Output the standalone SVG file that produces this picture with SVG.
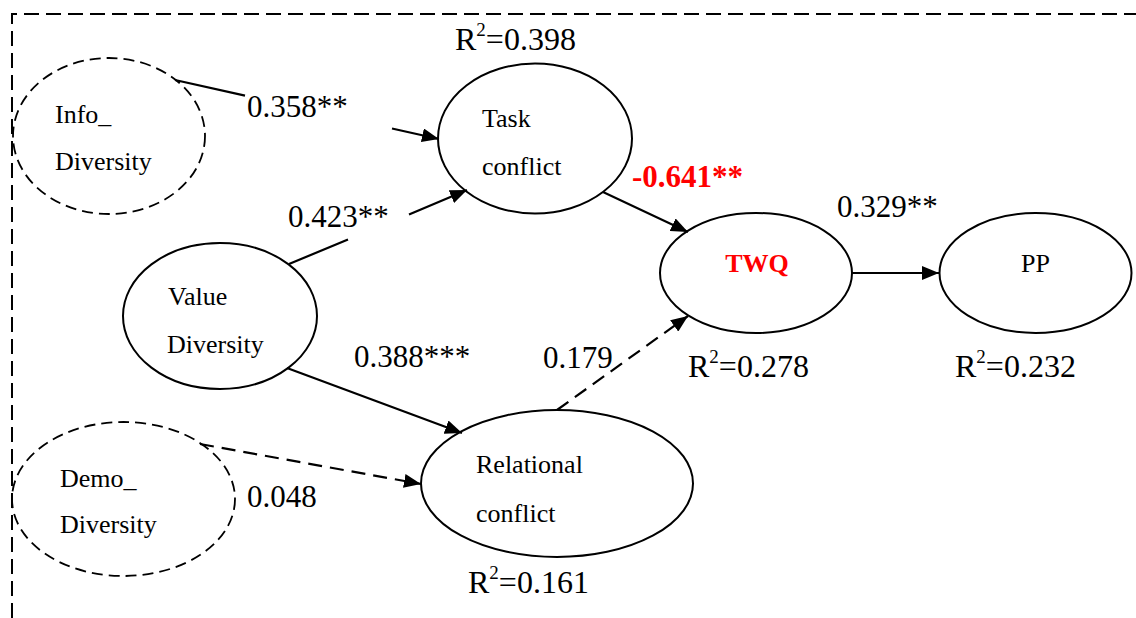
<svg xmlns="http://www.w3.org/2000/svg" width="1136" height="618" viewBox="0 0 1136 618">
<style>
  .bg{fill:#fff}
  .border{fill:none;stroke:#000;stroke-width:2;stroke-dasharray:15 7}
  .node{fill:none;stroke:#000;stroke-width:2}
  .dnode{fill:none;stroke:#000;stroke-width:1.8;stroke-dasharray:11 6}
  .edge{fill:none;stroke:#000;stroke-width:2.2}
  .dedge{fill:none;stroke:#000;stroke-width:2.2;stroke-dasharray:14 8}
  .nt{font-family:"Liberation Serif","Times New Roman",serif;font-size:26px;fill:#000}
  .lbl{font-family:"Liberation Serif","Times New Roman",serif;font-size:31px;fill:#000}
  .r2{font-family:"Liberation Serif","Times New Roman",serif;font-size:32px;fill:#000}
  .red{fill:#ff0000;font-weight:bold}
</style>
<defs>
  <marker id="ah" markerUnits="userSpaceOnUse" markerWidth="17" markerHeight="14" refX="17" refY="7" orient="auto">
    <path d="M0 0 L17 7 L0 14 Z" fill="#000"/>
  </marker>
</defs>
<rect class="bg" x="0" y="0" width="1136" height="618"/>
<path class="border" d="M12 618 L12 14 L1136 14"/>

<g id="connectors">
  <path class="edge" d="M175 80 L245 95.6 M392 128.5 L439 139" marker-end="url(#ah)"/>
  <path class="edge" d="M289 264 L348 239.5 M409 214.5 L467 190" marker-end="url(#ah)"/>
  <path class="edge" d="M287 368 L462 433" marker-end="url(#ah)"/>
  <path class="edge" d="M603 192 L688 232" marker-end="url(#ah)"/>
  <path class="edge" d="M852 273 L939 273" marker-end="url(#ah)"/>
  <path class="dedge" d="M557 410 L688 316" marker-end="url(#ah)"/>
  <path class="dedge" d="M200 444 L421 484" marker-end="url(#ah)"/>
</g>

<g id="info-diversity">
  <ellipse class="dnode" cx="109" cy="136" rx="96" ry="78"/>
  <text class="nt" x="55" y="123">Info_</text>
  <text class="nt" x="55" y="170">Diversity</text>
</g>
<g id="task-conflict">
  <ellipse class="node" cx="535" cy="138.5" rx="97" ry="75"/>
  <text class="nt" x="482" y="127">Task</text>
  <text class="nt" x="482" y="175">conflict</text>
</g>
<g id="value-diversity">
  <ellipse class="node" cx="220" cy="316" rx="97" ry="73"/>
  <text class="nt" x="168" y="305">Value</text>
  <text class="nt" x="167" y="353">Diversity</text>
</g>
<g id="twq">
  <ellipse class="node" cx="756" cy="273" rx="96" ry="60"/>
  <text class="nt red" x="757" y="272" text-anchor="middle">TWQ</text>
</g>
<g id="pp">
  <ellipse class="node" cx="1035.5" cy="273" rx="96" ry="60"/>
  <text class="nt" x="1021" y="272">PP</text>
</g>
<g id="relational-conflict">
  <ellipse class="node" cx="557" cy="483.5" rx="136" ry="73.5"/>
  <text class="nt" x="476" y="473">Relational</text>
  <text class="nt" x="476" y="522">conflict</text>
</g>
<g id="demo-diversity">
  <ellipse class="dnode" cx="123.5" cy="499" rx="111.5" ry="77"/>
  <text class="nt" x="60" y="487">Demo_</text>
  <text class="nt" x="60" y="533">Diversity</text>
</g>

<g id="labels">
  <text class="lbl" x="247" y="117">0.358**</text>
  <text class="lbl" x="288" y="227">0.423**</text>
  <text class="lbl" x="354" y="367">0.388***</text>
  <text class="lbl" x="543" y="368">0.179</text>
  <text class="lbl" x="247" y="507">0.048</text>
  <text class="lbl red" x="632" y="187">-0.641**</text>
  <text class="lbl" x="837" y="217">0.329**</text>
  <text class="r2" x="455" y="50">R<tspan font-size="19" dy="-14">2</tspan><tspan dy="14">=0.398</tspan></text>
  <text class="r2" x="688" y="377">R<tspan font-size="19" dy="-14">2</tspan><tspan dy="14">=0.278</tspan></text>
  <text class="r2" x="955" y="377">R<tspan font-size="19" dy="-14">2</tspan><tspan dy="14">=0.232</tspan></text>
  <text class="r2" x="468" y="593">R<tspan font-size="19" dy="-14">2</tspan><tspan dy="14">=0.161</tspan></text>
</g>
</svg>
